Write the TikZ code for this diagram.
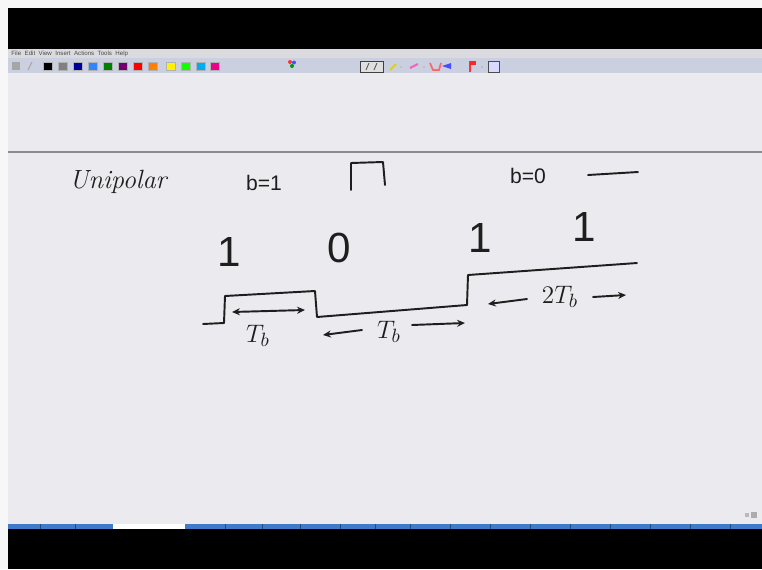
\documentclass[tikz,border=0pt]{standalone}
\usepackage{fontspec}
\newfontfamily\sansf{Liberation Sans}
\usetikzlibrary{arrows.meta}
\definecolor{canvas}{HTML}{EBEAEE}
\definecolor{ink}{HTML}{1E1E1E}
\definecolor{toolbar}{HTML}{CBD0E0}
\definecolor{menubar}{HTML}{DADADF}
\definecolor{taskblue}{HTML}{3F7BC8}
\definecolor{ruleline}{HTML}{8A8A90}
\begin{document}
\begin{tikzpicture}[x=0.02cm,y=-0.02cm,
  pen/.style={draw=ink, line width=1.1pt, line cap=round, line join=round},
  hand/.style={text=ink, inner sep=0pt},
  harrow/.style={pen, -{Stealth[length=4.5pt,width=4pt]}},
  darrow/.style={pen, {Stealth[length=4.5pt,width=4pt]}-{Stealth[length=4.5pt,width=4pt]}},
  swatch/.style={draw=gray!60, line width=0.3pt},
  digit/.style={hand, font=\sansf\fontsize{24}{26}\selectfont},
  label/.style={hand, font=\sansf\fontsize{12}{14}\selectfont},
  tb/.style={hand, font=\fontsize{15}{17}\selectfont}]
\useasboundingbox (0,0) rectangle (762,569);
% window frame
\fill[white!94!gray] (0,0) rectangle (762,569);
\fill[black] (8,8) rectangle (762,49);
\fill[menubar] (8,49) rectangle (762,58);
\fill[toolbar] (8,58) rectangle (762,73);
\fill[canvas] (8,73) rectangle (762,524);
\fill[taskblue] (8,524) rectangle (762,529);
\fill[white] (113,524) rectangle (185,529);
\fill[black] (8,529) rectangle (762,569);
\foreach \xx in {40,75,225,262,300,340,375,410,450,490,530,570,610,650,690,730}
  \draw[taskblue!60!black, line width=0.3pt] (\xx,524) -- (\xx,529);
% menu
\node[anchor=west, text=gray!60!black, font=\sansf\fontsize{3.5}{4}\selectfont, inner sep=0pt] (menu) at (11,53.5) {File\ \ Edit\ \ View\ \ Insert\ \ Actions\ \ Tools\ \ Help};
% toolbar swatches
\foreach \xx/\cc in {43/black,58/gray,73/{blue!60!black},88/{blue!60!cyan!80!white},103/{green!50!black},118/{violet!90!black},133/red,148/orange,166/yellow,181/{green!90!lime},196/cyan,210/magenta}
  \fill[\cc, swatch] (\xx,62) rectangle ++(9,8);
\fill[gray!70] (12,62) rectangle (20,70);
\draw[gray!70, line width=0.6pt] (28,70) -- (32,62);
\fill[red!80] (290,62) circle (2);
\fill[blue!70] (294,62.5) circle (2);
\fill[green!60!black] (292,66) circle (2);
\draw[gray!50!black, fill=gray!25, line width=0.5pt] (360,61) rectangle (383,72);
\draw[gray!70!black, line width=0.5pt] (366,70) -- (369,63) (374,70) -- (377,63);
\draw[yellow!70!olive, line width=1pt] (390,70) -- (396,64);
\fill[gray!60] (401,67) circle (0.8);
\draw[magenta!60, line width=1.2pt] (410,68) -- (418,64);
\fill[gray!60] (424,67) circle (0.8);
\draw[red!60, line width=1pt] (430,63) -- (433,70) -- (439,70) -- (441,63);
\fill[blue!70] (442,66) -- (451,63) -- (451,69) -- cycle;
\draw[red!80, line width=0.6pt] (470,72) -- (470,61);
\fill[red!85] (470,61) rectangle (476,65);
\fill[gray!60] (482,67) circle (0.8);
\draw[gray!60!black, fill=blue!15, line width=0.5pt] (488,61) rectangle (499,72);
% status marks
\fill[gray!55] (745,513) rectangle (749,517);
\fill[gray!65] (751,512) rectangle (757,518);
% page rule
\draw[ruleline, line width=0.9pt] (8,152) -- (762,152);
% title and legend
\node[hand, font=\fontsize{15}{17}\selectfont\itshape] (title) at (118,182) {Unipolar};
\node[label] (b1) at (264,183) {b=1};
\node[label] (b0) at (528,176) {b=0};
\draw[pen] (351,190) -- (351,163) -- (383,162) -- (385,185);
\draw[pen] (588,175) -- (638,172);
% bits
\node[digit] (d1) at (229,252) {1};
\node[digit] (d2) at (339,248) {0};
\node[digit] (d3) at (480,238) {1};
\node[digit] (d4) at (584,227) {1};
% waveform
\coordinate (w0) at (203,324);
\coordinate (w1) at (224,323);
\coordinate (w2) at (225,296);
\coordinate (w3) at (315,291);
\coordinate (w4) at (317,317);
\coordinate (w5) at (467,305);
\coordinate (w6) at (468,275);
\coordinate (w7) at (637,263);
\draw[pen] (w0) -- (w1) -- (w2) -- (w3) -- (w4) -- (w5) -- (w6) -- (w7);
% durations
\coordinate (a1l) at (232,312);
\coordinate (a1r) at (305,310);
\draw[darrow] (a1l) -- (a1r);
\node[tb] (t1) at (258,336) {$T_b$};
\coordinate (a2a) at (362,330);
\coordinate (a2b) at (323,335);
\coordinate (a2c) at (412,325);
\coordinate (a2d) at (465,323);
\node[tb] (t2) at (389,332) {$T_b$};
\draw[harrow] (a2a) -- (a2b);
\draw[harrow] (a2c) -- (a2d);
\coordinate (a3a) at (527,299);
\coordinate (a3b) at (488,304);
\coordinate (a3c) at (593,297);
\coordinate (a3d) at (626,295);
\node[tb] (t3) at (560,297) {$2T_b$};
\draw[harrow] (a3a) -- (a3b);
\draw[harrow] (a3c) -- (a3d);
\end{tikzpicture}
\end{document}
